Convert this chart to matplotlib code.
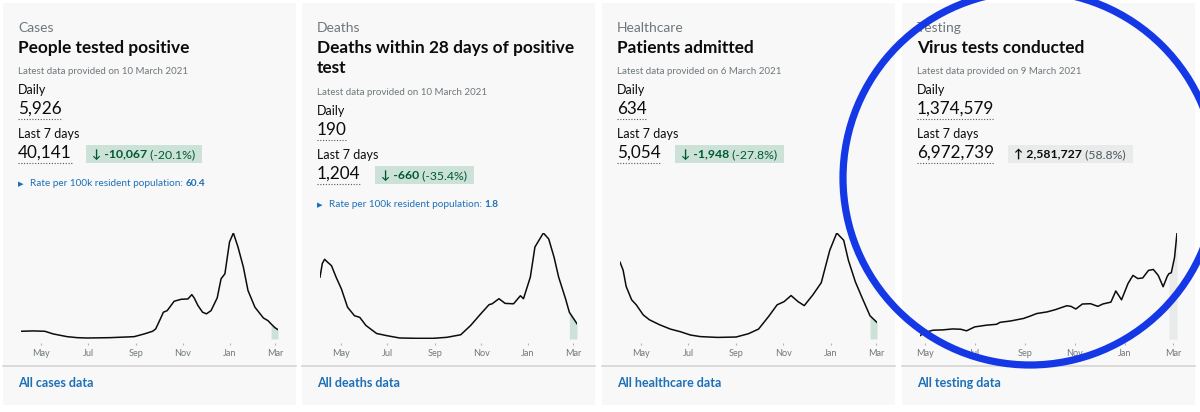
import numpy as np
import pandas as pd
import matplotlib
matplotlib.use("Agg")
import matplotlib.pyplot as plt
import matplotlib.dates as mdates
from matplotlib.patches import Rectangle, Ellipse

plt.rcParams['font.family'] = ['Lato', 'DejaVu Sans']

# ------------------------
# card texts
# ------------------------
captions = ["Cases", "Deaths", "Healthcare", "Testing"]
titles = ["People tested positive", "Deaths within 28 days of positive\ntest",
          "Patients admitted", "Virus tests conducted"]
latest = ["10 March 2021", "10 March 2021", "6 March 2021", "9 March 2021"]
daily = ["5,926", "190", "634", "1,374,579"]
last7 = ["40,141", "1,204", "5,054", "6,972,739"]
change = ["-10,067", "-660", "-1,948", "2,581,727"]
change_pct = ["(-20.1%)", "(-35.4%)", "(-27.8%)", "(58.8%)"]
change_up = [False, False, False, True]
rates = ["60.4", "1.8", None, None]
links = ["All cases data", "All deaths data", "All healthcare data", "All testing data"]

# ------------------------
# series (7-day averages)
# ------------------------
cases_dates = ["2020-04-05", "2020-04-21", "2020-05-06", "2020-05-17", "2020-06-04", "2020-06-17",
               "2020-06-30", "2020-07-30", "2020-08-30", "2020-09-12", "2020-09-23", "2020-09-27",
               "2020-09-29", "2020-10-04", "2020-10-07", "2020-10-12", "2020-10-21", "2020-10-30",
               "2020-11-08", "2020-11-13", "2020-11-16", "2020-11-21", "2020-11-27", "2020-12-02",
               "2020-12-08", "2020-12-16", "2020-12-21", "2020-12-26", "2021-01-01", "2021-01-06",
               "2021-01-12", "2021-01-19", "2021-01-25", "2021-02-03", "2021-02-14", "2021-02-20",
               "2021-02-24", "2021-03-01", "2021-03-05"]
cases_values = [4300, 4500, 4300, 2800, 1300, 750,
                550, 750, 1300, 2800, 4300, 5600,
                7400, 12000, 14900, 15800, 21000, 22100,
                22300, 24700, 22900, 18600, 14900, 14000,
                15800, 22900, 33500, 36300, 54000, 59000,
                51200, 40000, 27000, 17700, 11700, 10200,
                8400, 6300, 5200]

deaths_dates = ["2020-04-04", "2020-04-07", "2020-04-10", "2020-04-14", "2020-04-19", "2020-04-25",
                "2020-05-02", "2020-05-10", "2020-05-19", "2020-05-26", "2020-06-03", "2020-06-17",
                "2020-06-30", "2020-07-17", "2020-08-08", "2020-08-30", "2020-09-17", "2020-10-05",
                "2020-10-18", "2020-10-31", "2020-11-11", "2020-11-15", "2020-11-24", "2020-12-02",
                "2020-12-13", "2020-12-22", "2020-12-26", "2021-01-04", "2021-01-10", "2021-01-21",
                "2021-01-28", "2021-02-04", "2021-02-10", "2021-02-19", "2021-02-24", "2021-03-06"]
deaths_values = [730, 890, 940, 905, 865, 730,
                 590, 375, 275, 255, 160, 65,
                 40, 12, 8, 8, 20, 50,
                 160, 295, 405, 415, 475, 420,
                 415, 510, 475, 730, 1085, 1250,
                 1180, 965, 730, 475, 315, 180]

admitted_dates = ["2020-04-04", "2020-04-08", "2020-04-12", "2020-04-19", "2020-04-25", "2020-05-04",
                  "2020-05-12", "2020-05-25", "2020-06-08", "2020-06-21", "2020-07-04", "2020-07-17",
                  "2020-08-08", "2020-09-01", "2020-09-17", "2020-09-30", "2020-10-13", "2020-10-24",
                  "2020-11-02", "2020-11-11", "2020-11-20", "2020-11-28", "2020-12-09", "2020-12-20",
                  "2020-12-31", "2021-01-09", "2021-01-18", "2021-01-24", "2021-02-02", "2021-02-11",
                  "2021-02-21", "2021-03-02"]
admitted_values = [2900, 2600, 1980, 1480, 1290, 910,
                   725, 540, 375, 275, 150, 90,
                   60, 75, 200, 375, 850, 1290,
                   1410, 1640, 1410, 1260, 1660, 2125,
                   3350, 4000, 3725, 2975, 2160, 1540,
                   875, 625]

tests_dates = ["2020-04-25", "2020-05-01", "2020-05-11", "2020-05-23", "2020-06-04", "2020-06-14",
               "2020-06-21", "2020-07-01", "2020-07-15", "2020-07-28", "2020-08-01", "2020-08-14",
               "2020-08-30", "2020-09-07", "2020-09-15", "2020-09-28", "2020-10-08", "2020-10-14",
               "2020-10-22", "2020-10-27", "2020-11-02", "2020-11-10", "2020-11-20", "2020-11-29",
               "2020-12-05", "2020-12-15", "2020-12-21", "2020-12-28", "2021-01-05", "2021-01-11",
               "2021-01-17", "2021-01-23", "2021-01-30", "2021-02-05", "2021-02-11", "2021-02-17",
               "2021-02-22", "2021-02-24", "2021-02-27", "2021-03-03", "2021-03-06"]
tests_values = [31000, 62000, 83000, 86000, 95000, 92000,
                77000, 114000, 130000, 139000, 157000, 170000,
                194000, 216000, 240000, 256000, 277000, 293000,
                314000, 308000, 283000, 330000, 333000, 308000,
                330000, 348000, 453000, 370000, 524000, 600000,
                570000, 576000, 647000, 656000, 600000, 493000,
                590000, 616000, 625000, 770000, 1000000]

# start of the "last 7 days" highlight
highlight_from = ["2021-02-24", "2021-02-24", "2021-02-21", "2021-02-24"]

series = [(cases_dates, cases_values), (deaths_dates, deaths_values),
          (admitted_dates, admitted_values), (tests_dates, tests_values)]

# ------------------------
# colours
# ------------------------
INK = "#0b0c0c"
GREY = "#6f777b"
BLUE = "#1d70b8"
CARD = "#f8f8f8"
GREEN_BG = "#cce2d8"
GREEN_TX = "#005a30"
NEUTRAL_BG = "#e9eaea"

W, H = 1200, 412
fig = plt.figure(figsize=(W / 100, H / 100), dpi=100)
fig.patch.set_facecolor("white")

bg = fig.add_axes([0, 0, 1, 1])
bg.set_xlim(0, W)
bg.set_ylim(H, 0)
bg.axis("off")
renderer = fig.canvas.get_renderer()


def txt(x, y, s, size, color=INK, weight="normal", **kw):
    return bg.text(x, y, s, fontsize=size, color=color, fontweight=weight,
                   ha="left", va="baseline", **kw)


def wpx(t):
    return t.get_window_extent(renderer).width


card_left = [3, 302, 602, 902]
card_w = 293
plot_top, plot_base = 233, 339

for i, L in enumerate(card_left):
    bg.add_patch(Rectangle((L, 3), card_w, 402, facecolor=CARD, edgecolor="none", zorder=0))
    tx = L + 15
    dy = 21 if "\n" in titles[i] else 0

    txt(tx, 31.7, captions[i], 10, GREY)
    title_lines = titles[i].split("\n")
    for k, line in enumerate(title_lines):
        txt(tx, 53.3 + 20 * k, line, 12.4, INK, "bold")
    txt(tx, 74 + dy, "Latest data provided on " + latest[i], 7.0, GREY)

    txt(tx, 94 + dy, "Daily", 9.0)
    t = txt(tx, 114 + dy, daily[i], 12.3)
    bg.plot([tx, tx + wpx(t)], [119 + dy, 119 + dy], color="#505a5f", lw=0.8,
            ls=(0, (1, 1.5)))

    txt(tx, 138 + dy, "Last 7 days", 9.0)
    t = txt(tx, 158 + dy, last7[i], 12.3)
    vw = wpx(t)
    bg.plot([tx, tx + vw], [162.7 + dy, 162.7 + dy], color="#505a5f", lw=0.8,
            ls=(0, (1, 1.5)))

    # change box
    bx = tx + vw + 14
    arrow = "\u2191" if change_up[i] else "\u2193"
    fg = INK if change_up[i] else GREEN_TX
    t1 = txt(bx + 6, 158 + dy, arrow + " " + change[i], 8.8, fg, "bold")
    t2 = txt(bx + 6 + wpx(t1), 158 + dy, " " + change_pct[i], 8.8,
             "#505a5f" if change_up[i] else GREEN_TX)
    box_w = 6 + wpx(t1) + wpx(t2) + 7
    bg.add_patch(Rectangle((bx, 145 + dy), box_w, 17.7,
                           facecolor=NEUTRAL_BG if change_up[i] else GREEN_BG,
                           edgecolor="none", zorder=0.5))

    if rates[i] is not None:
        txt(tx, 185.7 + dy, "\u25b6", 5.2, BLUE)
        t = txt(tx + 12, 185.7 + dy, "Rate per 100k resident population: ", 7.2, BLUE)
        txt(tx + 12 + wpx(t), 185.7 + dy, rates[i], 7.2, BLUE, "bold")

    # footer
    bg.plot([L, L + card_w], [366, 366], color="#d4d4d4", lw=1.2)
    txt(tx, 386.7, links[i], 9, BLUE, "bold")

    # ---------- chart ----------
    dates = pd.to_datetime(series[i][0])
    vals = np.array(series[i][1], dtype=float)
    ax = fig.add_axes([(L + 18) / W, 1 - plot_base / H, 257 / W, (plot_base - plot_top) / H])
    ax.patch.set_alpha(0)
    ax.plot(dates, vals, color=INK, lw=1.1, solid_joinstyle="round")
    sel = dates >= pd.Timestamp(highlight_from[i])
    ax.fill_between(dates[sel], 0, vals[sel],
                    color=NEUTRAL_BG if change_up[i] else GREEN_BG, lw=0)
    ax.set_xlim(dates[0], dates[-1])
    ax.set_ylim(0, vals.max())
    for s in ax.spines.values():
        s.set_visible(False)
    ax.spines["bottom"].set_position(("outward", 3))
    ax.set_yticks([])
    ax.xaxis.set_major_locator(mdates.MonthLocator(bymonth=[1, 3, 5, 7, 9, 11]))
    ax.xaxis.set_major_formatter(mdates.DateFormatter("%b"))
    ax.tick_params(axis="x", length=1.6, width=0.8, color="#b1b4b6",
                   labelsize=6.6, labelcolor=GREY, pad=2.5)

# ---------- blue highlight circle ----------
top = fig.add_axes([0, 0, 1, 1], zorder=10)
top.set_xlim(0, W)
top.set_ylim(H, 0)
top.axis("off")
top.patch.set_alpha(0)
top.add_patch(Ellipse((1030, 178), 374, 374, facecolor="none",
                      edgecolor="#1438e6", lw=5.2, clip_on=False))

fig.savefig("out.png", dpi=100)
